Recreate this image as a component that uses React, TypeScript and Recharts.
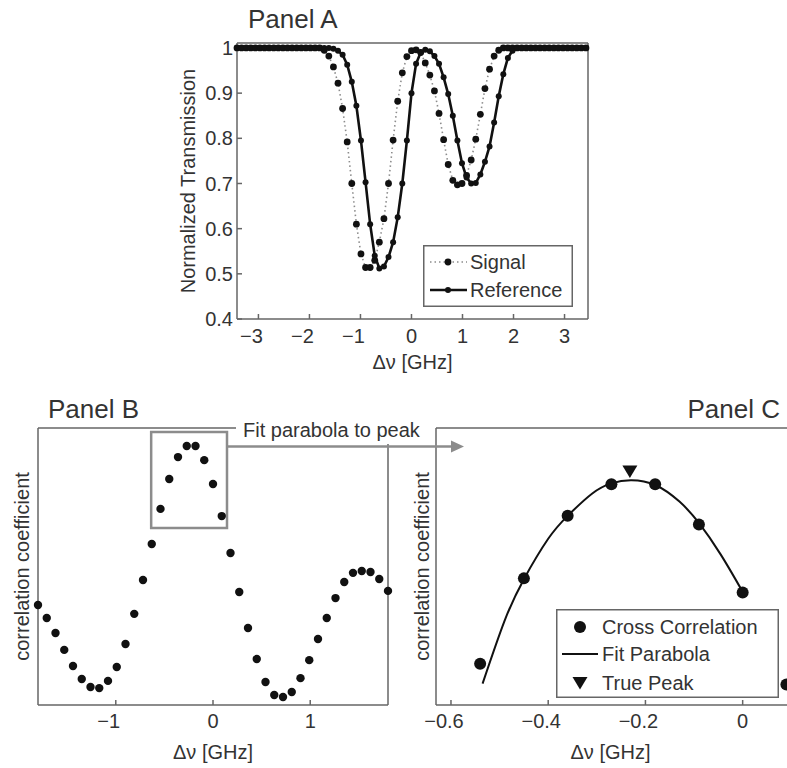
import React from 'react';
import {
  ComposedChart, Line, Scatter, XAxis, YAxis, ReferenceArea, Legend,
} from 'recharts';

const FONT = '"Liberation Sans", Arial, Helvetica, sans-serif';
const INK = '#333';
const AXIS = '#666';
const DOT = '#111';
const GRAY = '#8c8c8c';

// Panel A: normalized transmission, sampled every 0.09 GHz
const FREQ_A = [
  -3.42, -3.33, -3.24, -3.15, -3.06, -2.97, -2.88, -2.79, -2.7, -2.61,
  -2.52, -2.43, -2.34, -2.25, -2.16, -2.07, -1.98, -1.89, -1.8, -1.71,
  -1.62, -1.53, -1.44, -1.35, -1.26, -1.17, -1.08, -0.99, -0.9, -0.81,
  -0.72, -0.63, -0.54, -0.45, -0.36, -0.27, -0.18, -0.09, 0, 0.09,
  0.18, 0.27, 0.36, 0.45, 0.54, 0.63, 0.72, 0.81, 0.9, 0.99,
  1.08, 1.17, 1.26, 1.35, 1.44, 1.53, 1.62, 1.71, 1.8, 1.89,
  1.98, 2.07, 2.16, 2.25, 2.34, 2.43, 2.52, 2.61, 2.7, 2.79,
  2.88, 2.97, 3.06, 3.15, 3.24, 3.33, 3.42,
];
const SIGNAL = [
  1, 1, 1, 1, 1, 1, 1, 1, 1, 1,
  1, 1, 1, 1, 1, 1, 1, 1, 1, 0.995,
  0.982, 0.958, 0.922, 0.866, 0.792, 0.7, 0.61, 0.544, 0.514, 0.514,
  0.53, 0.57, 0.622, 0.7, 0.796, 0.882, 0.945, 0.981, 0.994, 0.996,
  0.99, 0.967, 0.94, 0.905, 0.855, 0.797, 0.742, 0.707, 0.697, 0.7,
  0.718, 0.752, 0.798, 0.853, 0.91, 0.953, 0.982, 0.995, 1, 1,
  1, 1, 1, 1, 1, 1, 1, 1, 1, 1,
  1, 1, 1, 1, 1, 1, 1,
];
const REFERENCE = [
  1, 1, 1, 1, 1, 1, 1, 1, 1, 1,
  1, 1, 1, 1, 1, 1, 1, 1, 1, 1,
  1, 0.998, 0.994, 0.985, 0.963, 0.925, 0.872, 0.795, 0.703, 0.61,
  0.54, 0.512, 0.516, 0.537, 0.57, 0.625, 0.7, 0.795, 0.9, 0.965,
  0.99, 0.996, 0.993, 0.982, 0.965, 0.935, 0.898, 0.85, 0.795, 0.745,
  0.713, 0.7, 0.701, 0.72, 0.748, 0.782, 0.835, 0.893, 0.942, 0.978,
  0.994, 1, 1, 1, 1, 1, 1, 1, 1, 1,
  1, 1, 1, 1, 1, 1, 1,
];
const TICKS_A_X = [-3, -2, -1, 0, 1, 2, 3];
const TICKS_A_Y = [0.4, 0.5, 0.6, 0.7, 0.8, 0.9, 1];

// Panel B: cross correlation of signal against reference
const FREQ_B = [
  -1.8, -1.71, -1.62, -1.53, -1.44, -1.35, -1.26, -1.17, -1.08, -0.99,
  -0.9, -0.81, -0.72, -0.63, -0.54, -0.45, -0.36, -0.27, -0.18, -0.09,
  0, 0.09, 0.18, 0.27, 0.36, 0.45, 0.54, 0.63, 0.72, 0.81,
  0.9, 0.99, 1.08, 1.17, 1.26, 1.35, 1.44, 1.53, 1.62, 1.71, 1.8,
];
const CORR_B = [
  0.361, 0.314, 0.26, 0.199, 0.141, 0.094, 0.065, 0.061, 0.087, 0.137,
  0.22, 0.329, 0.451, 0.581, 0.708, 0.816, 0.895, 0.935, 0.935, 0.884,
  0.798, 0.682, 0.549, 0.408, 0.278, 0.166, 0.083, 0.036, 0.029, 0.047,
  0.097, 0.162, 0.238, 0.314, 0.386, 0.444, 0.477, 0.484, 0.48, 0.455, 0.412,
];
const TICKS_B_X = [-1, 0, 1];
const PEAK_WINDOW = { x1: -0.636, x2: 0.144, y1: 0.639, y2: 0.986 };

// Panel C: parabola fitted to the points inside the window
const FIT_FREQ = [-0.535, -0.49, -0.45, -0.4, -0.36, -0.31, -0.27, -0.23, -0.18, -0.13, -0.09, -0.045, 0];
const FIT_CORR = [0.683, 0.762, 0.815, 0.866, 0.895, 0.923, 0.936, 0.94, 0.934, 0.913, 0.886, 0.846, 0.799];
const TRUE_PEAK_FREQ = [-0.232];
const TRUE_PEAK_CORR = [0.951];
const TICKS_C_X = [-0.6, -0.4, -0.2, 0];

const specRows = FREQ_A.map((x, i) => ({ x, signal: SIGNAL[i], reference: REFERENCE[i] }));
const corrRows = FREQ_B.map((x, i) => ({ x, y: CORR_B[i] }));
const windowRows = corrRows.filter((r) => r.x >= -0.55 && r.x <= 0.1);
const fitRows = FIT_FREQ.map((x, i) => ({ x, y: FIT_CORR[i] }));
const peakRows = TRUE_PEAK_FREQ.map((x, i) => ({ x, y: TRUE_PEAK_CORR[i] }));

const fmt = (v: number) => (v < 0 ? `\u2212${Math.abs(v)}` : String(v));

const textStyle = { fontFamily: FONT, fill: INK };
const axisLine = { stroke: AXIS, strokeWidth: 1.5 };

// negative labels sit a little left of their tick
const XTick = (props: any) => {
  const { x, y, payload } = props;
  const v = payload.value as number;
  return (
    <text x={x + (v < 0 ? -7 : 0)} y={y} dy={14} textAnchor="middle" fontSize={20} {...textStyle}>
      {fmt(v)}
    </text>
  );
};

const xLabel = (offset: number, dx = 0) => ({
  value: '\u0394\u03bd [GHz]', position: 'bottom' as const, offset, dx,
  style: { fontSize: 20, ...textStyle },
});

const yLabel = (value: string, offset: number) => ({
  value, angle: -90, position: 'left' as const, offset,
  style: { fontSize: 20, textAnchor: 'middle', ...textStyle },
});

const dotShape = (r: number) => (p: any) => <circle cx={p.cx} cy={p.cy} r={r} fill={DOT} />;

const triangleShape = (p: any) => (
  <polygon
    points={`${p.cx - 7.5},${p.cy - 6} ${p.cx + 7.5},${p.cy - 6} ${p.cx},${p.cy + 6.5}`}
    fill={DOT}
  />
);

const SpectrumKey = () => (
  <svg width={150} height={62} style={{ display: 'block' }}>
    <rect x={0.75} y={0.75} width={148.5} height={60.5} fill="#fff" stroke={AXIS} strokeWidth={1.5} />
    <line x1={7} x2={44} y1={17} y2={17} stroke={GRAY} strokeWidth={1.6} strokeDasharray="1.5 3" />
    <circle cx={25} cy={17} r={3.4} fill={DOT} />
    <text x={47} y={17} dy="0.35em" fontSize={20} {...textStyle}>Signal</text>
    <line x1={7} x2={44} y1={45} y2={45} stroke={DOT} strokeWidth={2.6} />
    <circle cx={25} cy={45} r={3} fill={DOT} />
    <text x={47} y={45} dy="0.35em" fontSize={20} {...textStyle}>Reference</text>
  </svg>
);

const FitKey = () => (
  <svg width={223} height={89} style={{ display: 'block' }}>
    <rect x={0.75} y={0.75} width={221.5} height={87.5} fill="#fff" stroke={AXIS} strokeWidth={1.5} />
    <circle cx={24} cy={18} r={6} fill={DOT} />
    <text x={46} y={18} dy="0.35em" fontSize={20} {...textStyle}>Cross Correlation</text>
    <line x1={6} x2={42} y1={45} y2={45} stroke={DOT} strokeWidth={2} />
    <text x={46} y={45} dy="0.35em" fontSize={20} {...textStyle}>Fit Parabola</text>
    <polygon points="16.5,68 31.5,68 24,80.5" fill={DOT} />
    <text x={46} y={74} dy="0.35em" fontSize={20} {...textStyle}>True Peak</text>
  </svg>
);

const layer: React.CSSProperties = { position: 'absolute', left: 0, top: 0 };

// every axis is 1px thick so it renders; negative tick sizes point the ticks inward
const PanelA = () => (
  <div style={layer}>
    <ComposedChart width={787} height={768} data={specRows} margin={{ top: 42, right: 198, bottom: 448, left: 236 }}>
      <XAxis
        xAxisId="b" dataKey="x" type="number" domain={[-3.42, 3.46]} ticks={TICKS_A_X} interval={0}
        height={1} tickSize={-5} tickMargin={15} tick={<XTick />} axisLine={axisLine} tickLine={axisLine}
        label={xLabel(35)}
      />
      <XAxis
        xAxisId="t" orientation="top" type="number" domain={[-3.42, 3.46]} allowDataOverflow ticks={TICKS_A_X}
        interval={0} height={1} tickSize={-5} tick={false} axisLine={axisLine} tickLine={axisLine}
      />
      <YAxis
        yAxisId="l" type="number" domain={[0.4, 1.011]} ticks={TICKS_A_Y} interval={0} width={1}
        tickSize={-5} tickMargin={9} tickFormatter={(v: number) => (v === 1 ? '1' : v.toFixed(1))}
        tick={{ fontSize: 20, ...textStyle }} axisLine={axisLine} tickLine={axisLine}
        label={yLabel('Normalized Transmission', 48)}
      />
      <YAxis
        yAxisId="r" orientation="right" type="number" domain={[0.4, 1.011]} allowDataOverflow ticks={TICKS_A_Y}
        interval={0} width={1} tickSize={-5} tick={false} axisLine={axisLine} tickLine={axisLine}
      />
      <Line
        xAxisId="b" yAxisId="l" dataKey="signal" name="Signal" stroke={GRAY} strokeWidth={1.6}
        strokeDasharray="1.5 3" dot={{ r: 3.4, fill: DOT, stroke: 'none' }} isAnimationActive={false}
      />
      <Line
        xAxisId="b" yAxisId="l" dataKey="reference" name="Reference" stroke={DOT} strokeWidth={2.6}
        dot={{ r: 3, fill: DOT, stroke: 'none' }} isAnimationActive={false}
      />
      <Legend
        layout="vertical" align="center" verticalAlign="middle" content={() => <SpectrumKey />}
        wrapperStyle={{ left: 423, top: 245, width: 150, height: 62 }}
      />
    </ComposedChart>
  </div>
);

const PanelB = () => (
  <div style={layer}>
    <ComposedChart width={787} height={768} margin={{ top: 427, right: 398, bottom: 62, left: 37 }}>
      <XAxis
        xAxisId="b" dataKey="x" type="number" domain={[-1.8, 1.8]} ticks={TICKS_B_X} interval={0}
        height={1} tickSize={-5} tickMargin={14} tick={<XTick />} axisLine={axisLine} tickLine={axisLine}
        label={xLabel(39)}
      />
      <XAxis
        xAxisId="t" orientation="top" type="number" domain={[-1.8, 1.8]} allowDataOverflow ticks={TICKS_B_X}
        interval={0} height={1} tickSize={-5} tick={false} axisLine={axisLine} tickLine={axisLine}
      />
      <YAxis
        yAxisId="l" type="number" domain={[0, 1]} width={1} tick={false} tickLine={false} axisLine={axisLine}
        label={yLabel('correlation coefficient', 15)}
      />
      <YAxis
        yAxisId="r" orientation="right" type="number" domain={[0, 1]} allowDataOverflow width={1}
        tick={false} tickLine={false} axisLine={axisLine}
      />
      <ReferenceArea
        xAxisId="b" yAxisId="l" {...PEAK_WINDOW} fill="none" stroke={GRAY} strokeWidth={2.5}
        ifOverflow="visible"
      />
      <Scatter
        xAxisId="b" yAxisId="l" data={corrRows} dataKey="y" shape={dotShape(4.2)} isAnimationActive={false}
      />
    </ComposedChart>
  </div>
);

const PanelC = () => (
  <div style={layer}>
    <ComposedChart width={830} height={768} margin={{ top: 427, right: 29, bottom: 62, left: 435 }}>
      <XAxis
        xAxisId="b" dataKey="x" type="number" domain={[-0.6308, 0.12]} ticks={TICKS_C_X} interval={0}
        height={1} tickSize={-5} tickMargin={14} tick={<XTick />} axisLine={axisLine} tickLine={axisLine}
        label={xLabel(39, -8)}
      />
      <XAxis
        xAxisId="t" orientation="top" type="number" domain={[-0.6308, 0.12]} allowDataOverflow ticks={TICKS_C_X}
        interval={0} height={1} tickSize={-5} tick={false} axisLine={axisLine} tickLine={axisLine}
      />
      <YAxis
        yAxisId="l" type="number" domain={[0.656, 1.006]} width={1} tick={false} tickLine={false}
        axisLine={axisLine} label={yLabel('correlation coefficient', 13)}
      />
      <Line
        xAxisId="b" yAxisId="l" data={fitRows} dataKey="y" name="Fit Parabola" type="natural" dot={false}
        stroke={DOT} strokeWidth={2} isAnimationActive={false}
      />
      <Scatter
        xAxisId="b" yAxisId="l" data={windowRows} dataKey="y" name="Cross Correlation"
        shape={dotShape(6)} isAnimationActive={false}
      />
      <Scatter
        xAxisId="b" yAxisId="l" data={peakRows} dataKey="y" name="True Peak"
        shape={triangleShape} isAnimationActive={false}
      />
      <Legend
        layout="vertical" align="center" verticalAlign="middle" content={() => <FitKey />}
        wrapperStyle={{ left: 556, top: 609, width: 223, height: 89 }}
      />
    </ComposedChart>
  </div>
);

// titles plus the callout linking the window in B to panel C
const Annotations = () => (
  <svg width={787} height={768} style={{ ...layer, pointerEvents: 'none' }}>
    <text x={248} y={28} fontSize={26} {...textStyle}>Panel A</text>
    <text x={48} y={418} fontSize={26} {...textStyle}>Panel B</text>
    <text x={780} y={418} fontSize={26} textAnchor="end" {...textStyle}>Panel C</text>
    <rect x={236} y={414} width={192} height={30} fill="#fff" />
    <text x={243} y={437} fontSize={20} {...textStyle}>Fit parabola to peak</text>
    <line x1={227} y1={446.5} x2={452} y2={446.5} stroke={GRAY} strokeWidth={2.5} />
    <polygon points="451,440.5 464,446.5 451,452.5" fill={GRAY} />
  </svg>
);

export default function App() {
  return (
    <div style={{ position: 'absolute', left: 0, top: 0, width: 787, height: 768, overflow: 'hidden', background: '#fff' }}>
      <PanelA />
      <PanelB />
      <PanelC />
      <Annotations />
    </div>
  );
}
